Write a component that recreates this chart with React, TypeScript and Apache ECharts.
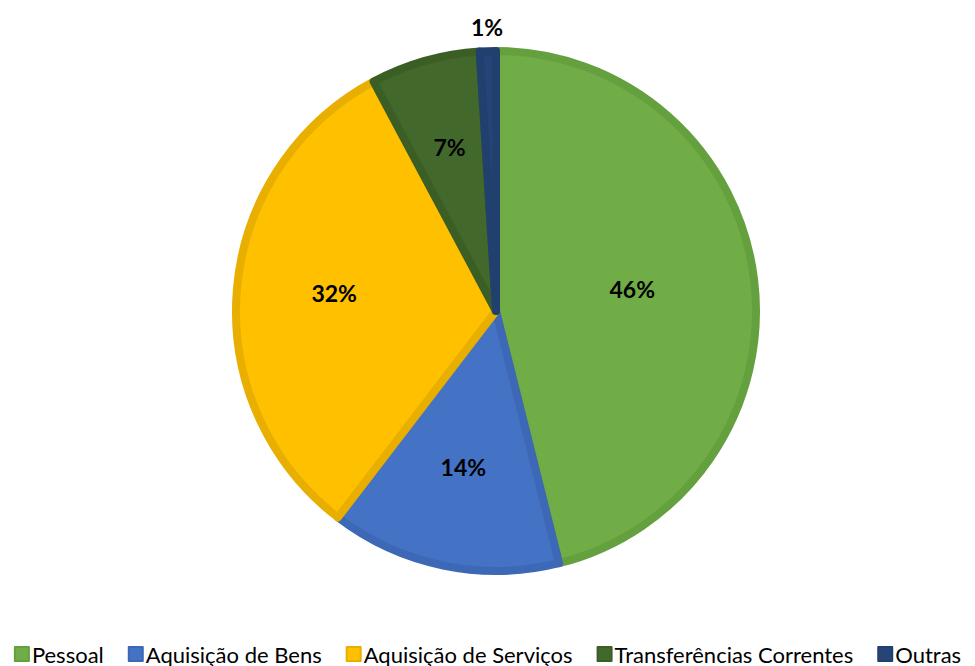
import React, { useEffect, useRef } from "react";
import * as echarts from "echarts";

const categories = ["Pessoal", "Aquisição de Bens", "Aquisição de Serviços", "Transferências Correntes", "Outras"];
const values = [46.1, 14.3, 31.8, 6.8, 1.0];
const colors = ["#70AD47", "#4472C4", "#FFC000", "#43682B", "#264478"];
const borderColors = ["#64A03E", "#3D68B5", "#E8AE00", "#3B5E25", "#22406E"];
// label distance from pie centre, as a fraction of the radius (Excel "best fit" look)
const labelRadiusFactor = [0.52, 0.61, 0.615, 0.645, 1.075];
const labelDy = [-5, -2, -5, 0, 0];

const CX = 496;
const CY = 311;
const R = 260;
const BW = 8;

export default function App() {
  const ref = useRef<HTMLDivElement>(null);
  useEffect(() => {
    document.body.style.margin = "0";
    const chart = echarts.init(ref.current!, null, { renderer: "svg" });
    const total = values.reduce((a, b) => a + b, 0);
    const midAngles: number[] = [];
    let acc = 0;
    values.forEach((v) => {
      midAngles.push(((acc + v / 2) / total) * Math.PI * 2);
      acc += v;
    });
    const data = categories.map((name, i) => ({
      name,
      value: values[i],
      itemStyle: { color: colors[i], borderColor: borderColors[i], borderWidth: BW },
    }));
    chart.setOption({
      animation: false,
      color: colors,
      legend: {
        bottom: -4,
        left: "center",
        itemWidth: 14,
        itemHeight: 14,
        itemGap: 24,
        icon: "rect",
        textStyle: { fontFamily: "Lato", fontSize: 22, color: "#000", padding: [0, 0, 0, -2] },
        data: categories,
      },
      series: [
        {
          type: "pie",
          center: [CX, CY],
          radius: R,
          startAngle: 90,
          clockwise: true,
          avoidLabelOverlap: false,
          label: {
            show: true,
            position: "inside",
            formatter: (p: any) => Math.round(p.value) + "%",
            fontFamily: "Lato",
            fontWeight: "bold",
            fontSize: 23,
            color: "#000",
          },
          labelLine: { show: false },
          labelLayout: (p: any) => {
            const i = p.dataIndex;
            const a = midAngles[i];
            const d = 264 * labelRadiusFactor[i];
            return {
              x: CX + Math.sin(a) * d,
              y: CY - Math.cos(a) * d + labelDy[i],
              align: "center",
              verticalAlign: "middle",
            };
          },
          emphasis: { disabled: true },
          data,
        },
      ],
    });
    return () => chart.dispose();
  }, []);
  return <div ref={ref} style={{ width: 975, height: 666 }} />;
}
